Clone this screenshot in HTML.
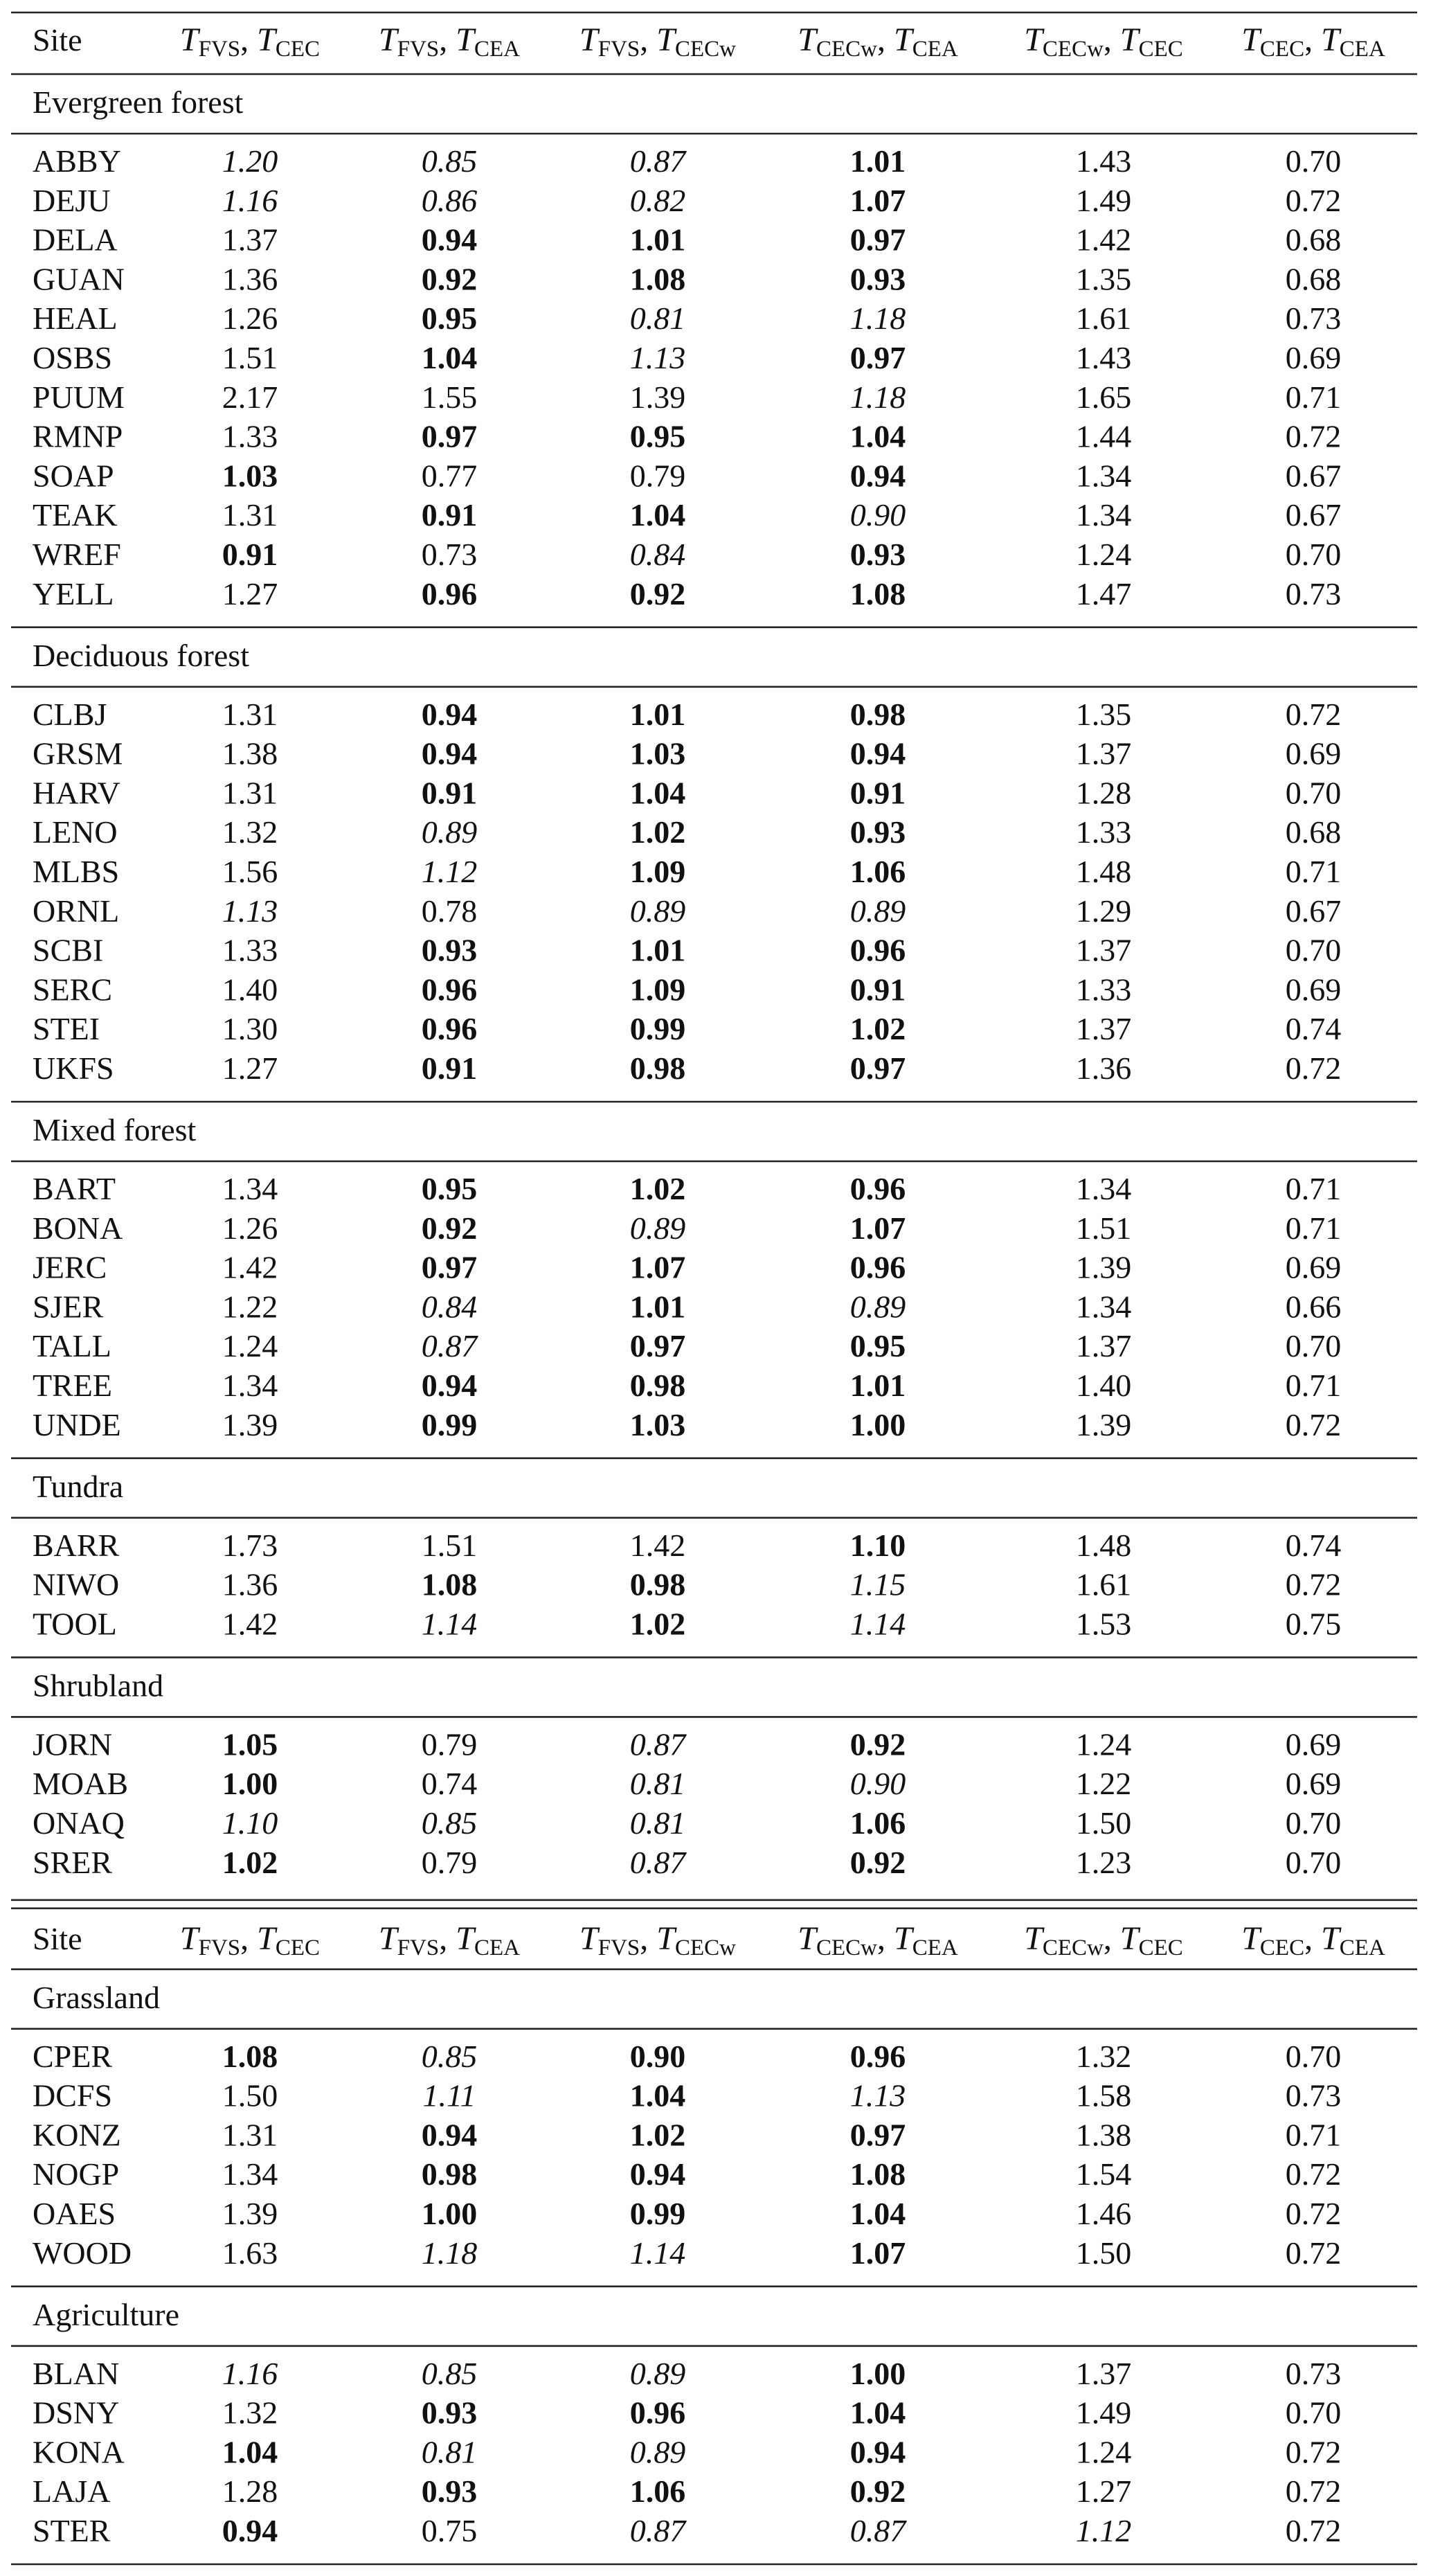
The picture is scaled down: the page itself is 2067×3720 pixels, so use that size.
<!DOCTYPE html>
<html><head><meta charset="utf-8">
<style>
html,body{margin:0;padding:0;background:#fff;}
svg{display:block;}
text{font-family:"Liberation Serif",serif;fill:#111;}
</style></head>
<body>
<svg id="tbl" width="2067" height="3720" viewBox="0 0 2067 3720" xmlns="http://www.w3.org/2000/svg"></svg>
<script>
const headerLabels=[["FVS","CEC"],["FVS","CEA"],["FVS","CECw"],["CECw","CEA"],["CECw","CEC"],["CEC","CEA"]];
const sectionNames=["Evergreen forest","Deciduous forest","Mixed forest","Tundra","Shrubland","Grassland","Agriculture"];
const siteNames=[
["ABBY","DEJU","DELA","GUAN","HEAL","OSBS","PUUM","RMNP","SOAP","TEAK","WREF","YELL"],
["CLBJ","GRSM","HARV","LENO","MLBS","ORNL","SCBI","SERC","STEI","UKFS"],
["BART","BONA","JERC","SJER","TALL","TREE","UNDE"],
["BARR","NIWO","TOOL"],
["JORN","MOAB","ONAQ","SRER"],
["CPER","DCFS","KONZ","NOGP","OAES","WOOD"],
["BLAN","DSNY","KONA","LAJA","STER"]];
const values=[
[[1.20,0.85,0.87,1.01,1.43,0.70],[1.16,0.86,0.82,1.07,1.49,0.72],[1.37,0.94,1.01,0.97,1.42,0.68],[1.36,0.92,1.08,0.93,1.35,0.68],[1.26,0.95,0.81,1.18,1.61,0.73],[1.51,1.04,1.13,0.97,1.43,0.69],[2.17,1.55,1.39,1.18,1.65,0.71],[1.33,0.97,0.95,1.04,1.44,0.72],[1.03,0.77,0.79,0.94,1.34,0.67],[1.31,0.91,1.04,0.90,1.34,0.67],[0.91,0.73,0.84,0.93,1.24,0.70],[1.27,0.96,0.92,1.08,1.47,0.73]],
[[1.31,0.94,1.01,0.98,1.35,0.72],[1.38,0.94,1.03,0.94,1.37,0.69],[1.31,0.91,1.04,0.91,1.28,0.70],[1.32,0.89,1.02,0.93,1.33,0.68],[1.56,1.12,1.09,1.06,1.48,0.71],[1.13,0.78,0.89,0.89,1.29,0.67],[1.33,0.93,1.01,0.96,1.37,0.70],[1.40,0.96,1.09,0.91,1.33,0.69],[1.30,0.96,0.99,1.02,1.37,0.74],[1.27,0.91,0.98,0.97,1.36,0.72]],
[[1.34,0.95,1.02,0.96,1.34,0.71],[1.26,0.92,0.89,1.07,1.51,0.71],[1.42,0.97,1.07,0.96,1.39,0.69],[1.22,0.84,1.01,0.89,1.34,0.66],[1.24,0.87,0.97,0.95,1.37,0.70],[1.34,0.94,0.98,1.01,1.40,0.71],[1.39,0.99,1.03,1.00,1.39,0.72]],
[[1.73,1.51,1.42,1.10,1.48,0.74],[1.36,1.08,0.98,1.15,1.61,0.72],[1.42,1.14,1.02,1.14,1.53,0.75]],
[[1.05,0.79,0.87,0.92,1.24,0.69],[1.00,0.74,0.81,0.90,1.22,0.69],[1.10,0.85,0.81,1.06,1.50,0.70],[1.02,0.79,0.87,0.92,1.23,0.70]],
[[1.08,0.85,0.90,0.96,1.32,0.70],[1.50,1.11,1.04,1.13,1.58,0.73],[1.31,0.94,1.02,0.97,1.38,0.71],[1.34,0.98,0.94,1.08,1.54,0.72],[1.39,1.00,0.99,1.04,1.46,0.72],[1.63,1.18,1.14,1.07,1.50,0.72]],
[[1.16,0.85,0.89,1.00,1.37,0.73],[1.32,0.93,0.96,1.04,1.49,0.70],[1.04,0.81,0.89,0.94,1.24,0.72],[1.28,0.93,1.06,0.92,1.27,0.72],[0.94,0.75,0.87,0.87,1.12,0.72]]];
const emphasis=[
["iiib..","iiib..",".bbb..",".bbb..",".bii..",".bib..","...i..",".bbb..","b..b..",".bbi..","b.ib..",".bbb.."],
[".bbb..",".bbb..",".bbb..",".ibb..",".ibb..","i.ii..",".bbb..",".bbb..",".bbb..",".bbb.."],
[".bbb..",".bib..",".bbb..",".ibi..",".ibb..",".bbb..",".bbb.."],
["...b..",".bbi..",".ibi.."],
["b.ib..","b.ii..","iiib..","b.ib.."],
["bibb..",".ibi..",".bbb..",".bbb..",".bbb..",".iib.."],
["iiib..",".bbb..","biib..",".bbb..","b.iii."]];

const svg=document.getElementById('tbl');
const NS="http://www.w3.org/2000/svg";
const colX=[361,649,950,1268,1594,1897];
const siteX=47, FS=46, P=56.8, X0=16, X1=2047;
function colPos(i){return colX[i];}
function rule(y,name){
  const l=document.createElementNS(NS,'line');
  l.setAttribute('x1',X0);l.setAttribute('x2',X1);l.setAttribute('y1',y);l.setAttribute('y2',y);
  l.setAttribute('stroke','#222');l.setAttribute('stroke-width','2.6');
  
  
  svg.appendChild(l);
}
function txt(x,cy,s,anchor,style,name){
  const t=document.createElementNS(NS,'text');
  t.setAttribute('x',x);t.setAttribute('y',cy+15);t.setAttribute('font-size',FS);
  t.setAttribute('text-anchor',anchor);
  if(style==='b')t.setAttribute('font-weight','bold');
  if(style==='i')t.setAttribute('font-style','italic');
  t.textContent=s;
  
  
  svg.appendChild(t);
  return t;
}
function header(cy){
  txt(siteX,cy,'Site','start','.','site-header');
  headerLabels.forEach((h,i)=>{
    const t=document.createElementNS(NS,'text');
    t.setAttribute('x',colPos(i));t.setAttribute('y',cy+15);t.setAttribute('font-size',FS+2);
    t.setAttribute('text-anchor','middle');
    t.innerHTML='<tspan font-style="italic">T</tspan><tspan font-size="33" dy="8">'+h[0]+'</tspan><tspan dy="-8">, </tspan><tspan font-style="italic">T</tspan><tspan font-size="33" dy="8">'+h[1]+'</tspan>';
    
    
    svg.appendChild(t);
  });
}
let y=18;
rule(y,'top-rule');
header(58);
let R=107;
rule(R,'header-rule');
sectionNames.forEach((sec,s)=>{
  if(s===5){
    rule(R+6,'split-rule');
    R=R+18;
    rule(R,'second-top-rule');
    header(R+44);
    R=R+88;
    rule(R,'header-rule');
  }
  txt(siteX,R+41,sec,'start','.','section-label');
  rule(R+86,'section-rule');
  let cy=R+126;
  siteNames[s].forEach((site,r)=>{
    txt(siteX,cy,site,'start','.','site-name');
    values[s][r].forEach((v,c)=>{
      txt(colPos(c),cy,v.toFixed(2),'middle',emphasis[s][r][c],'value-cell');
    });
    if(r<siteNames[s].length-1)cy+=P;
  });
  R=cy+48;
  if(s!==4)rule(R,s===6?'bottom-rule':'section-end-rule');
});
</script>
</body></html>
